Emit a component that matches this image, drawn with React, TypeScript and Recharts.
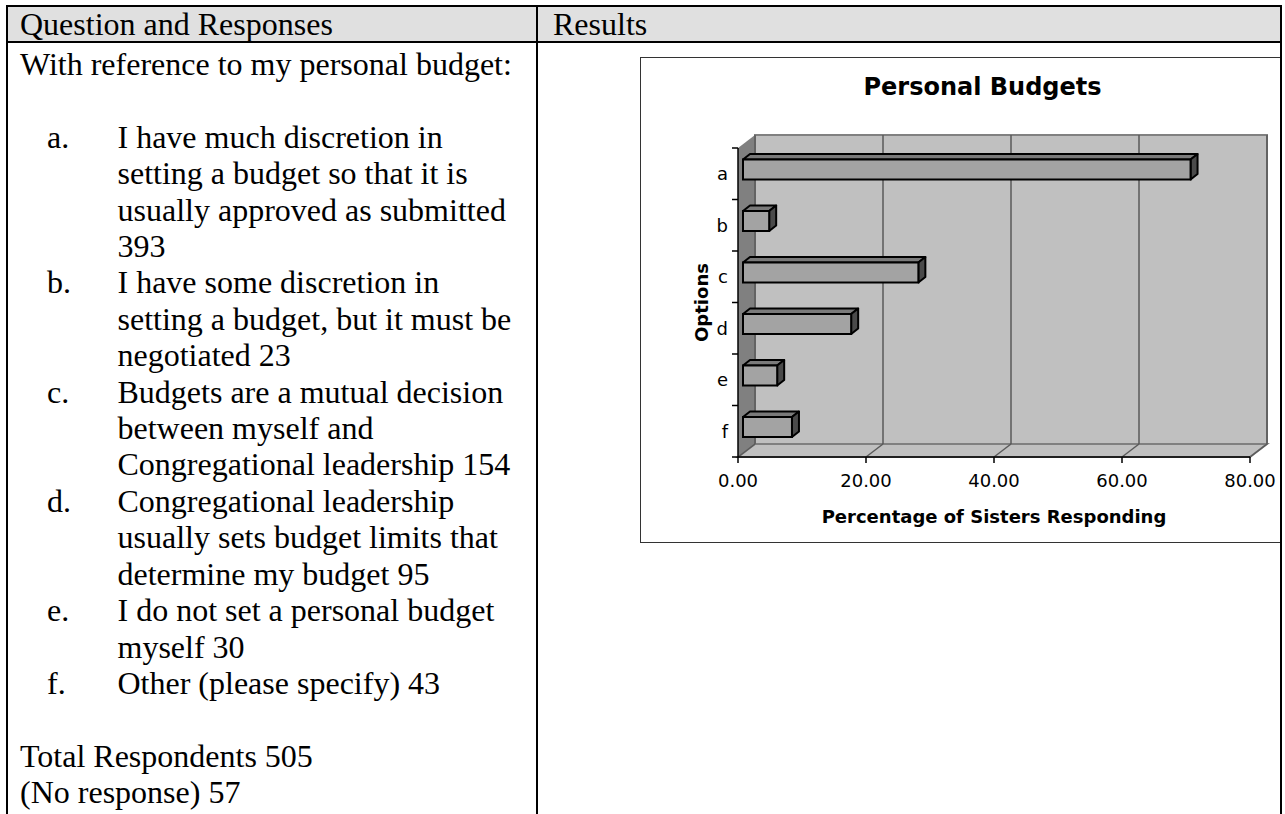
import React from 'react';
import { BarChart, Bar, XAxis, YAxis, CartesianGrid } from 'recharts';

// chart values
const options = ['a', 'b', 'c', 'd', 'e', 'f'];
const percentages = [69.93, 4.09, 27.4, 16.9, 5.34, 7.65];
const xTicks = [0, 20, 40, 60, 80];

// question text on the left
const responseLabels = ['a.', 'b.', 'c.', 'd.', 'e.', 'f.'];
const responseTexts = [
  'I have much discretion in setting a budget so that it is usually approved as submitted',
  'I have some discretion in setting a budget, but it must be negotiated',
  'Budgets are a mutual decision between myself and Congregational leadership',
  'Congregational leadership usually sets budget limits that determine my budget',
  'I do not set a personal budget myself',
  'Other (please specify)',
];
const responseCounts = [393, 23, 154, 95, 30, 43];

const data = options.map((o, i) => ({ option: o, pct: percentages[i] }));

const SERIF = '"Liberation Serif", "Times New Roman", serif';
const SANS = '"DejaVu Sans", Verdana, sans-serif';
const FS = 32;
const LH = 36.4;

// depth of the fake 3d box
const DX = 17;
const DY = -13;
const PLOT_W = 512;

const GridLine = (props: any) => {
  const { x1, y1, y2, index } = props;
  const px = props.x ?? x1;
  const py = props.y ?? y1;
  const ph = props.height ?? y2 - y1;
  const pw = props.width ?? PLOT_W;
  const n = options.length;
  let walls = null;
  if (index === 0) {
    walls = (
      <g>
        <rect x={px + DX} y={py + DY} width={pw} height={ph} fill="#c0c0c0" stroke="#808080" strokeWidth={2} />
        <polygon
          points={`${px},${py} ${px + DX},${py + DY} ${px + DX},${py + ph + DY} ${px},${py + ph}`}
          fill="#808080"
        />
        <polygon
          points={`${px},${py + ph} ${px + DX},${py + ph + DY} ${px + pw + DX},${py + ph + DY} ${px + pw},${py + ph}`}
          fill="#c0c0c0"
          stroke="#808080"
          strokeWidth={2}
        />
        {Array.from({ length: n + 1 }, (_, i) => (
          <line key={i} x1={px - 6} x2={px} y1={py + (i * ph) / n} y2={py + (i * ph) / n} stroke="#000" strokeWidth={1.5} />
        ))}
      </g>
    );
  }
  return (
    <g key={`v-${index}`}>
      {walls}
      <line x1={x1 + DX} y1={y1 + DY} x2={x1 + DX} y2={y2 + DY} stroke="#5a5a5a" strokeWidth={1.5} />
      <line x1={x1} y1={y2} x2={x1 + DX} y2={y2 + DY} stroke="#5a5a5a" strokeWidth={1.5} />
    </g>
  );
};

const Box3D = (props: any) => {
  const { x, y, width, height } = props;
  const fx = x + 5;
  const fy = y - 4.5;
  const bx = 7;
  const by = -5.5;
  return (
    <g>
      <polygon
        points={`${fx},${fy} ${fx + bx},${fy + by} ${fx + width + bx},${fy + by} ${fx + width},${fy}`}
        fill="#7a7a7a"
        stroke="#000"
        strokeWidth={2}
        strokeLinejoin="round"
      />
      <polygon
        points={`${fx + width},${fy} ${fx + width + bx},${fy + by} ${fx + width + bx},${fy + height + by} ${fx + width},${fy + height}`}
        fill="#4a4a4a"
        stroke="#000"
        strokeWidth={2}
        strokeLinejoin="round"
      />
      <rect x={fx} y={fy} width={width} height={height} fill="#a3a3a3" stroke="#000" strokeWidth={2} />
    </g>
  );
};

const YLabel = (p: any) => {
  const vb = p.viewBox || { x: 58, y: 91, width: 40, height: 309 };
  const cx = vb.x + 3;
  const cy = vb.y + vb.height / 2;
  return (
    <text
      x={cx}
      y={cy}
      transform={`rotate(-90, ${cx}, ${cy})`}
      textAnchor="middle"
      dominantBaseline="central"
      fontFamily={SANS}
      fontWeight="bold"
      fontSize={18}
      fill="#000"
    >
      Options
    </text>
  );
};

const XLabel = (p: any) => {
  const vb = p.viewBox || { x: 98, y: 400, width: 512, height: 40 };
  return (
    <text
      x={vb.x + vb.width / 2}
      y={vb.y + 59.5}
      textAnchor="middle"
      dominantBaseline="central"
      fontFamily={SANS}
      fontWeight="bold"
      fontSize={18}
      fill="#000"
    >
      Percentage of Sisters Responding
    </text>
  );
};

const abs = (s: React.CSSProperties): React.CSSProperties => ({ position: 'absolute', ...s });

export default function App() {
  return (
    <div style={abs({ left: 0, top: 0, width: 1285, height: 814, overflow: 'hidden', background: '#fff', fontFamily: SERIF, color: '#000' })}>
      {/* header row */}
      <div style={abs({ left: 8, top: 7, width: 1272, height: 34, background: '#e0e0e0' })} />
      <div style={abs({ left: 20, top: 6, fontSize: FS, lineHeight: LH + 'px', whiteSpace: 'nowrap' })}>Question and Responses</div>
      <div style={abs({ left: 553, top: 6, fontSize: FS, lineHeight: LH + 'px', whiteSpace: 'nowrap' })}>Results</div>

      {/* question column */}
      <div style={abs({ left: 20, top: 46, width: 510, fontSize: FS, lineHeight: LH + 'px' })}>
        <div>With reference to my personal budget:</div>
        <div>&nbsp;</div>
        {responseTexts.map((t, i) => (
          <div key={i} style={{ position: 'relative', marginLeft: 97.5, width: 405 }}>
            <span style={{ position: 'absolute', left: -70.5 }}>{responseLabels[i]}</span>
            {t} {responseCounts[i]}
          </div>
        ))}
        <div>&nbsp;</div>
        <div>Total Respondents 505</div>
        <div>(No response) 57</div>
      </div>

      {/* chart */}
      <div style={abs({ left: 640, top: 57, width: 645, height: 486 })}>
        <BarChart
          width={645}
          height={486}
          data={data}
          layout="vertical"
          margin={{ top: 91, right: 35, bottom: 46, left: 58 }}
          style={{ fontFamily: SANS }}
        >
          <CartesianGrid horizontal={false} vertical={GridLine} />
          <XAxis
            type="number"
            domain={[0, 80]}
            ticks={xTicks}
            tickFormatter={(v: number) => v.toFixed(2)}
            height={40}
            tickSize={6}
            tickMargin={11}
            tick={{ fill: '#000', fontSize: 18, fontFamily: SANS }}
            axisLine={{ stroke: '#000', strokeWidth: 1.5 }}
            tickLine={{ stroke: '#000', strokeWidth: 1.5 }}
            label={{ content: XLabel }}
          />
          <YAxis
            type="category"
            dataKey="option"
            width={40}
            tickSize={6}
            tickMargin={4}
            tickLine={false}
            tick={{ fill: '#000', fontSize: 18, fontFamily: SANS }}
            axisLine={{ stroke: '#000', strokeWidth: 1.5 }}
            label={{ content: YLabel }}
          />
          <Bar dataKey="pct" barSize={20} shape={Box3D} isAnimationActive={false} />
        </BarChart>
      </div>
      <div style={abs({ left: 640, top: 75, width: 685, textAlign: 'center', fontFamily: SANS, fontWeight: 'bold', fontSize: 24, lineHeight: '24px' })}>
        Personal Budgets
      </div>
      <div style={abs({ left: 640, top: 57, width: 642, height: 486, boxSizing: 'border-box', border: '1.5px solid #333' })} />

      {/* table rules */}
      <div style={abs({ left: 6, top: 5, width: 1276, height: 2, background: '#000' })} />
      <div style={abs({ left: 6, top: 41, width: 1276, height: 2, background: '#000' })} />
      <div style={abs({ left: 6, top: 5, width: 2, height: 820, background: '#000' })} />
      <div style={abs({ left: 536, top: 5, width: 2, height: 820, background: '#000' })} />
      <div style={abs({ left: 1280, top: 5, width: 2, height: 820, background: '#000' })} />
    </div>
  );
}
